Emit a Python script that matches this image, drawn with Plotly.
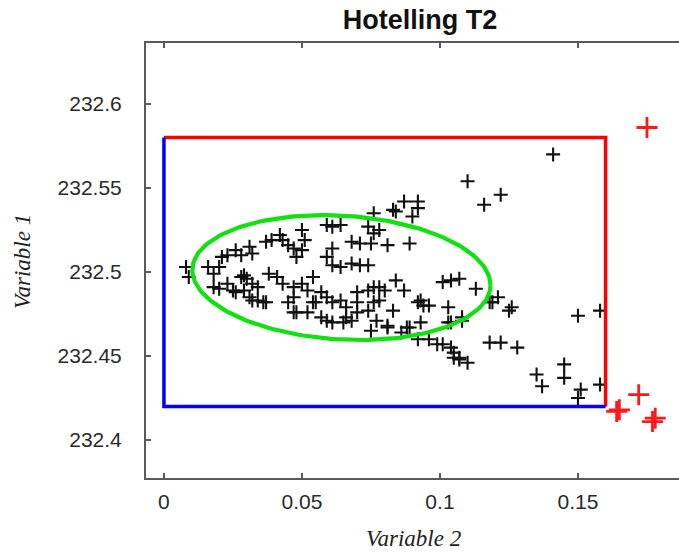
import numpy as np
import plotly.graph_objects as go

# ---- data ----
normal_x = [0.008, 0.009, 0.016, 0.018, 0.020, 0.021, 0.023, 0.026, 0.028, 0.031,
            0.032, 0.037, 0.039, 0.042, 0.043, 0.045, 0.047, 0.050, 0.051, 0.050,
            0.048, 0.054, 0.059, 0.061, 0.064, 0.068, 0.071, 0.074, 0.076, 0.075,
            0.061, 0.059, 0.061, 0.064, 0.068, 0.071, 0.074,
            0.018, 0.020, 0.023, 0.025, 0.026, 0.028, 0.029, 0.030, 0.032, 0.034,
            0.029, 0.031, 0.034, 0.037, 0.038, 0.041, 0.043, 0.047, 0.050, 0.052,
            0.047, 0.045, 0.048, 0.052, 0.054, 0.057, 0.059, 0.061, 0.064, 0.066,
            0.070, 0.074, 0.076, 0.057, 0.059, 0.061, 0.066, 0.070, 0.074, 0.076,
            0.141, 0.110, 0.122, 0.116, 0.087, 0.092, 0.092, 0.090, 0.083, 0.084,
            0.076, 0.078, 0.081, 0.089, 0.084, 0.101, 0.104, 0.107, 0.113, 0.078,
            0.118, 0.121, 0.126, 0.150, 0.158, 0.092, 0.094, 0.103, 0.083, 0.078,
            0.081, 0.088, 0.093, 0.103, 0.108,
            0.047, 0.065, 0.068, 0.077, 0.075, 0.081, 0.086, 0.089, 0.093, 0.092,
            0.096, 0.099, 0.036, 0.032, 0.055, 0.070,
            0.108, 0.104, 0.101, 0.104, 0.105, 0.107, 0.107, 0.110, 0.105, 0.118,
            0.122, 0.128, 0.125, 0.119, 0.135, 0.137, 0.145, 0.145, 0.151, 0.150,
            0.158, 0.087, 0.096, 0.080]
normal_y = [232.503, 232.497, 232.503, 232.499, 232.503, 232.509, 232.510, 232.513, 232.510, 232.515,
            232.511, 232.518, 232.519, 232.522, 232.519, 232.516, 232.514, 232.525, 232.519, 232.513,
            232.509, 232.497, 232.528, 232.527, 232.528, 232.518, 232.517, 232.527, 232.523, 232.517,
            232.514, 232.509, 232.504, 232.503, 232.505, 232.504, 232.504,
            232.491, 232.490, 232.493, 232.489, 232.488, 232.497, 232.498, 232.496, 232.493, 232.491,
            232.489, 232.485, 232.483, 232.482, 232.499, 232.497, 232.493, 232.491, 232.493, 232.489,
            232.485, 232.482, 232.476, 232.476, 232.482, 232.488, 232.485, 232.482, 232.483, 232.479,
            232.488, 232.489, 232.491, 232.473, 232.471, 232.470, 232.473, 232.476, 232.477, 232.482,
            232.570, 232.554, 232.546, 232.540, 232.542, 232.542, 232.538, 232.533, 232.537, 232.536,
            232.535, 232.525, 232.516, 232.517, 232.495, 232.494, 232.495, 232.496, 232.490, 232.491,
            232.482, 232.485, 232.479, 232.474, 232.477, 232.482, 232.480, 232.479, 232.477, 232.483,
            232.468, 232.467, 232.470, 232.470, 232.473,
            232.476, 232.470, 232.471, 232.471, 232.465, 232.467, 232.464, 232.467, 232.483, 232.460,
            232.460, 232.457, 232.482, 232.483, 232.482, 232.482,
            232.471, 232.470, 232.457, 232.455, 232.449, 232.449, 232.448, 232.446, 232.452, 232.458,
            232.458, 232.455, 232.477, 232.482, 232.439, 232.432, 232.445, 232.437, 232.430, 232.425,
            232.433, 232.489, 232.480, 232.489]

outlier_x = [0.175, 0.164, 0.165, 0.172, 0.178, 0.177]
outlier_y = [232.586, 232.417, 232.418, 232.427, 232.413, 232.411]

# control limits (box)
limit_x = [0.0, 0.16]
limit_y = [232.42, 232.58]

# ellipse parameters
ell_center = (0.0643, 232.4967)
ell_ax = 0.054
ell_by = 0.0369
ell_tilt = 0.0045

x_ticks = [0, 0.05, 0.1, 0.15]
x_tick_labels = ["0", "0.05", "0.1", "0.15"]
y_ticks = [232.4, 232.45, 232.5, 232.55, 232.6]
y_tick_labels = ["232.4", "232.45", "232.5", "232.55", "232.6"]

# ---- figure ----
fig = go.Figure()

t = np.linspace(0, 2 * np.pi, 200)
ex = ell_center[0] + ell_ax * np.cos(t)
ey = ell_center[1] + ell_by * np.sin(t) - ell_tilt * np.cos(t)

fig.add_trace(go.Scatter(x=normal_x, y=normal_y, mode="markers",
                         marker=dict(symbol="cross-thin", size=10, color="#111111",
                                     line=dict(width=2.1, color="#111111")),
                         showlegend=False, hoverinfo="skip"))

fig.add_trace(go.Scatter(x=[limit_x[0], limit_x[1], limit_x[1]],
                         y=[limit_y[1], limit_y[1], limit_y[0]],
                         mode="lines", line=dict(color="#ff0000", width=3.5),
                         showlegend=False, hoverinfo="skip"))
fig.add_trace(go.Scatter(x=[limit_x[0], limit_x[0], limit_x[1]],
                         y=[limit_y[1], limit_y[0], limit_y[0]],
                         mode="lines", line=dict(color="#0000ff", width=3.5),
                         showlegend=False, hoverinfo="skip"))

fig.add_trace(go.Scatter(x=ex, y=ey, mode="lines",
                         line=dict(color="#11e011", width=4.2),
                         showlegend=False, hoverinfo="skip"))

fig.add_trace(go.Scatter(x=outlier_x, y=outlier_y, mode="markers",
                         marker=dict(symbol="cross-thin", size=15, color="#ff1a1a",
                                     line=dict(width=2.8, color="#ff1a1a")),
                         showlegend=False, hoverinfo="skip"))

axis_font = dict(family="Liberation Sans, Arial, sans-serif", size=21, color="#2a2a2a")

fig.update_layout(
    width=679, height=553,
    margin=dict(l=146, r=0, t=43, b=75),
    paper_bgcolor="white", plot_bgcolor="white",
    title=dict(text="<b>Hotelling T2</b>", x=(420 - 146) / 533, xref="paper",
               xanchor="center", y=1 - 20 / 553, yref="container", yanchor="middle",
               font=dict(family="Liberation Sans, Arial, sans-serif", size=27, color="#111111")),
    xaxis=dict(range=[-0.0065, 0.1866], tickvals=x_ticks, ticktext=x_tick_labels,
               showgrid=False, zeroline=False, showline=True, linecolor="#5a5a5a", linewidth=2,
               mirror="ticks", ticks="inside", ticklen=5, tickwidth=1.5, tickcolor="#5a5a5a",
               tickfont=axis_font, ticklabelstandoff=4),
    yaxis=dict(range=[232.3774, 232.6363], tickvals=y_ticks, ticktext=y_tick_labels,
               showgrid=False, zeroline=False, showline=True, linecolor="#5a5a5a", linewidth=2,
               ticks="inside", ticklen=5, tickwidth=1.5, tickcolor="#5a5a5a",
               tickfont=axis_font, ticklabelstandoff=18),
    annotations=[
        dict(text="<i>Variable 2</i>", xref="paper", yref="paper",
             x=(413 - 146) / 533, y=-(538 - 478) / 435, xanchor="center", yanchor="middle",
             showarrow=False,
             font=dict(family="Liberation Serif, DejaVu Serif, serif", size=23, color="#222222")),
        dict(text="<i>Variable 1</i>", xref="paper", yref="paper",
             x=-(146 - 22) / 533, y=(478 - 262) / 435, xanchor="center", yanchor="middle",
             textangle=-90, showarrow=False,
             font=dict(family="Liberation Serif, DejaVu Serif, serif", size=23, color="#222222")),
    ],
)

fig.write_html("out.html")
